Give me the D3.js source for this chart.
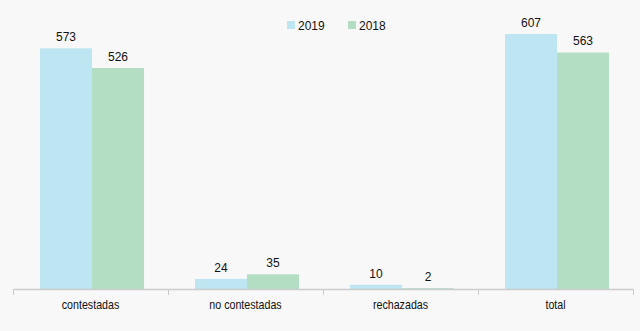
<!DOCTYPE html>
<html>
<head>
<meta charset="utf-8">
<script src="https://cdn.jsdelivr.net/npm/d3@7/dist/d3.min.js"></script>
<style>
  html, body { margin: 0; padding: 0; background: #f8f8f8; }
  svg { display: block; font-family: Arial, "Liberation Sans", sans-serif; }
</style>
</head>
<body>
<svg id="chart" width="640" height="331"></svg>
<script>
const categories = ["contestadas", "no contestadas", "rechazadas", "total"];
const seriesNames = ["2019", "2018"];
const values2019 = [573, 24, 10, 607];
const values2018 = [526, 35, 2, 563];
const colors = ["#bee5f2", "#b3dec4"];

const svg = d3.select("#chart");
const W = 640, H = 331;
const margin = { left: 13, right: 7 };
const baseY = 289;

svg.append("rect").attr("width", W).attr("height", H).attr("fill", "#f8f8f8");

const x = d3.scaleBand().domain(categories).range([margin.left, W - margin.right]).paddingInner(0).paddingOuter(0);
const xs = d3.scaleBand().domain(seriesNames).range([0, x.bandwidth()])
  .paddingInner(0).paddingOuter(0.49).align(0.53);
const y = d3.scaleLinear().domain([0, 607]).range([baseY, 34]);

const series = [values2019, values2018];

const groups = svg.append("g").selectAll("g")
  .data(categories)
  .join("g")
  .attr("transform", d => `translate(${x(d)},0)`);

groups.each(function(cat, ci) {
  const g = d3.select(this);
  seriesNames.forEach((s, si) => {
    const v = series[si][ci];
    g.append("rect")
      .attr("x", xs(s))
      .attr("y", y(v))
      .attr("width", xs.bandwidth())
      .attr("height", baseY - y(v))
      .attr("fill", colors[si]);
    g.append("text")
      .attr("x", xs(s) + xs.bandwidth() / 2)
      .attr("y", y(v) - 7)
      .attr("text-anchor", "middle")
      .attr("font-size", 12)
      .attr("fill", "#111")
      .text(v);
  });
});

// category axis
const axis = d3.axisBottom(x).tickSize(0).tickPadding(11);
const ax = svg.append("g").attr("transform", `translate(0,${baseY})`).call(axis);
ax.select(".domain").attr("stroke", "#cccccc").attr("stroke-width", 1.5);
ax.selectAll("text")
  .attr("font-size", 13)
  .attr("fill", "#111")
  .attr("font-family", "Arial, 'Liberation Sans', sans-serif")
  .each(function() {
    // condensed category labels
    const w = this.getComputedTextLength();
    d3.select(this).attr("textLength", w * 0.82).attr("lengthAdjust", "spacingAndGlyphs");
  });

// boundary tick marks between categories
const bounds = categories.map(c => x(c)).concat([x(categories[categories.length - 1]) + x.bandwidth()]);
svg.append("g").selectAll("line").data(bounds).join("line")
  .attr("x1", d => Math.round(d) + 0.5).attr("x2", d => Math.round(d) + 0.5)
  .attr("y1", baseY).attr("y2", baseY + 6)
  .attr("stroke", "#cccccc").attr("stroke-width", 1);

// legend
const legend = svg.append("g").attr("transform", "translate(287,21)");
seriesNames.forEach((s, i) => {
  const lg = legend.append("g").attr("transform", `translate(${i * 61},0)`);
  lg.append("rect").attr("width", 8).attr("height", 8).attr("fill", colors[i]);
  lg.append("text").attr("x", 11).attr("y", 8.5).attr("font-size", 12).attr("fill", "#111").text(s);
});
</script>
</body>
</html>
